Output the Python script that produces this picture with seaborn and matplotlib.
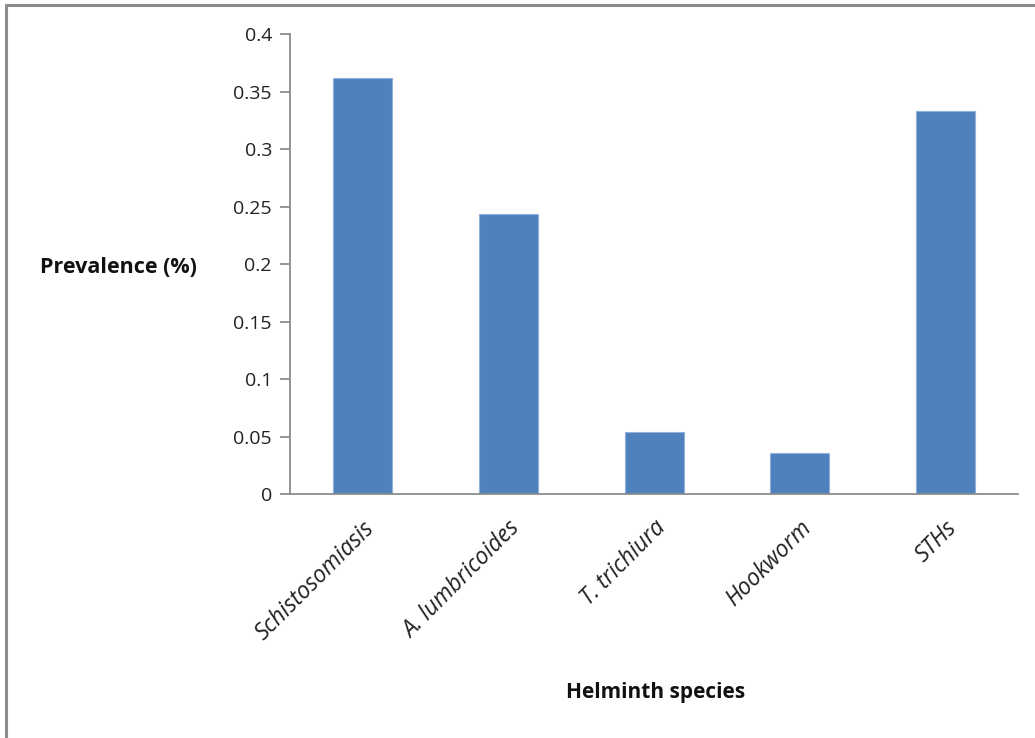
import matplotlib
matplotlib.use("Agg")
import matplotlib.pyplot as plt
from matplotlib.lines import Line2D
import seaborn as sns
import pandas as pd

species = ["Schistosomiasis", "A. lumbricoides", "T. trichiura", "Hookworm", "STHs"]
prevalence = [0.362, 0.2435, 0.0537, 0.0354, 0.3328]
yticks = [0, 0.05, 0.1, 0.15, 0.2, 0.25, 0.3, 0.35, 0.4]
ytick_labels = ["0", "0.05", "0.1", "0.15", "0.2", "0.25", "0.3", "0.35", "0.4"]

df = pd.DataFrame({"species": species, "prevalence": prevalence})

sns.set_theme(style="white")
plt.rcParams["font.family"] = ["Open Sans", "DejaVu Sans"]

fig = plt.figure(figsize=(10.35, 7.38), dpi=100)
ax = fig.add_axes([0.2802, 0.3306, 0.7034, 0.6233])

sns.barplot(data=df, x="species", y="prevalence", color="#4F81BD",
            saturation=1, width=0.405, edgecolor="#8FB0DA", linewidth=0.8, ax=ax)

axis_grey = "#8C8C8C"
ax.set_ylim(0, 0.4)
ax.set_xlim(-0.5, len(species) - 0.5)
ax.set_yticks(yticks)
ax.set_yticklabels(ytick_labels, fontsize=14, color="#222222")
for s in ["top", "right"]:
    ax.spines[s].set_visible(False)
for s in ["left", "bottom"]:
    ax.spines[s].set_color(axis_grey)
    ax.spines[s].set_linewidth(1.3)

# category boundary ticks on the x axis
ax.set_xticks([i - 0.5 for i in range(len(species) + 1)], minor=True)
ax.set_xticks(range(len(species)))
ax.set_xticklabels(species, rotation=45, ha="right", rotation_mode="anchor",
                   fontsize=16.5, fontstyle="italic", color="#222222")
ax.tick_params(axis="x", which="major", length=0, pad=16)
ax.tick_params(axis="x", which="minor", length=7, width=1.3, color=axis_grey, direction="out")
ax.tick_params(axis="y", length=7, width=1.3, color=axis_grey, direction="out", left=True, pad=6)
ax.set_xlabel("")
ax.set_ylabel("")

fig.text(0.039, 0.637, "Prevalence (%)", fontsize=15.5, fontweight="bold",
         ha="left", va="center", color="#111111")
fig.text(0.633, 0.061, "Helminth species", fontsize=15, fontweight="bold",
         ha="center", va="center", color="#111111")

# outer chart frame (left and top edges)
fig.add_artist(Line2D([0.0062, 0.0062], [0, 0.9935], transform=fig.transFigure,
                      color=axis_grey, linewidth=2.2))
fig.add_artist(Line2D([0.0062, 1.0], [0.9935, 0.9935], transform=fig.transFigure,
                      color=axis_grey, linewidth=2.2))

fig.savefig("out.png", dpi=100)
